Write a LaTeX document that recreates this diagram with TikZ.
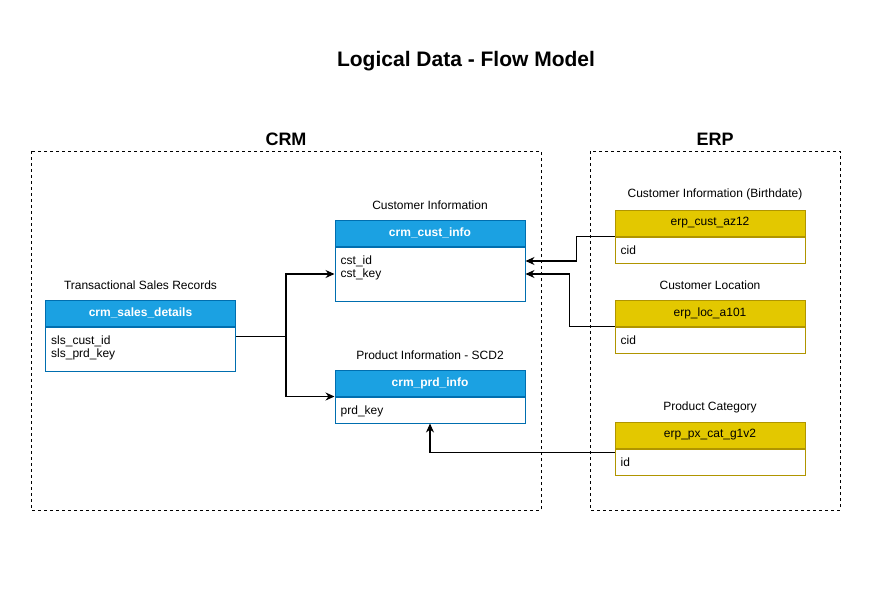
\documentclass[tikz,border=0pt]{standalone}
\usepackage{fontspec}
\setmainfont{Liberation Sans}
\usetikzlibrary{arrows.meta,calc}

\definecolor{crmblue}{HTML}{1BA1E2}
\definecolor{crmedge}{HTML}{006EAF}
\definecolor{erpgold}{HTML}{E3C800}
\definecolor{erpedge}{HTML}{B09500}

\tikzset{
  tblhead/.style={rectangle, line width=1pt, minimum width=190pt, minimum height=26pt, inner sep=0pt},
  crmhead/.style={tblhead, draw=crmedge, fill=crmblue, text=white, font=\bfseries\fontsize{12}{14}\selectfont},
  erphead/.style={tblhead, draw=erpedge, fill=erpgold, font=\fontsize{12}{14}\selectfont},
  crmbody/.style={rectangle, draw=crmedge, line width=1pt, minimum width=190pt, inner sep=0pt, anchor=north},
  erpbody/.style={crmbody, draw=erpedge},
  field/.style={anchor=north west, align=left, inner sep=0pt, font=\fontsize{12}{13.5}\selectfont},
  tbltitle/.style={font=\fontsize{12}{14}\selectfont},
  zonetitle/.style={font=\bfseries\fontsize{18}{20}\selectfont},
  zone/.style={draw, line width=0.8pt, dash pattern=on 3pt off 3pt},
  flow/.style={-{Stealth[length=9pt,width=8pt]}, line width=1.1pt}
}

\begin{document}
\begin{tikzpicture}[x=1pt, y=-1pt]
\useasboundingbox (0,0) rectangle (880,600);

\node[font=\bfseries\fontsize{21}{24}\selectfont] (title) at (466,61) {Logical Data - Flow Model};

% source systems
\draw[zone] (31,151) rectangle (541,510);
\node[zonetitle] (crm) at (286,139) {CRM};
\draw[zone] (590,151) rectangle (840,510);
\node[zonetitle] (erp) at (715,139) {ERP};

% crm tables
\node[tbltitle] (salestitle) at (140.5,285) {Transactional Sales Records};
\node[crmhead] (saleshead) at (140.5,313) {crm\_sales\_details};
\node[crmbody, minimum height=44pt] (salesbody) at (saleshead.south) {};
\node[field] (salesfld) at ($(salesbody.north west)+(6,9)$) {sls\_cust\_id\\sls\_prd\_key};

\node[tbltitle] (custtitle) at (430,205) {Customer Information};
\node[crmhead] (custhead) at (430,233) {crm\_cust\_info};
\node[crmbody, minimum height=54pt] (custbody) at (custhead.south) {};
\node[field] (custfld) at ($(custbody.north west)+(6,9)$) {cst\_id\\cst\_key};

\node[tbltitle] (prdtitle) at (430,355) {Product Information - SCD2};
\node[crmhead] (prdhead) at (430,383) {crm\_prd\_info};
\node[crmbody, minimum height=26pt] (prdbody) at (prdhead.south) {};
\node[field] (prdfld) at ($(prdbody.north west)+(6,9)$) {prd\_key};

% erp tables
\node[tbltitle] (aztitle) at (715,194) {Customer Information (Birthdate)};
\node[erphead] (azhead) at (710,223) {erp\_cust\_az12};
\node[erpbody, minimum height=26pt] (azbody) at (azhead.south) {};
\node[field] (azfld) at ($(azbody.north west)+(6,9)$) {cid};

\node[tbltitle] (loctitle) at (710,285) {Customer Location};
\node[erphead] (lochead) at (710,313) {erp\_loc\_a101};
\node[erpbody, minimum height=26pt] (locbody) at (lochead.south) {};
\node[field] (locfld) at ($(locbody.north west)+(6,9)$) {cid};

\node[tbltitle] (cattitle) at (710,407) {Product Category};
\node[erphead] (cathead) at (710,435) {erp\_px\_cat\_g1v2};
\node[erpbody, minimum height=26pt] (catbody) at (cathead.south) {};
\node[field] (catfld) at ($(catbody.north west)+(6,9)$) {id};

% connectors
\coordinate (split) at ($(salesbody.north east)+(50,10)$);
\draw[line width=1.1pt] ($(salesbody.north east)+(0,10)$) -- (split);
\draw[flow] (split) |- (custbody.west);
\draw[flow] (split) |- (prdhead.south west);

\draw[flow] (azhead.south west) -- ++(-38,0) |- ($(custbody.east)+(0,-13)$);
\draw[flow] (lochead.south west) -- ++(-45,0) |- (custbody.east);
\draw[flow] ($(cathead.south west)+(0,4)$) -| (prdbody.south);

\end{tikzpicture}
\end{document}
